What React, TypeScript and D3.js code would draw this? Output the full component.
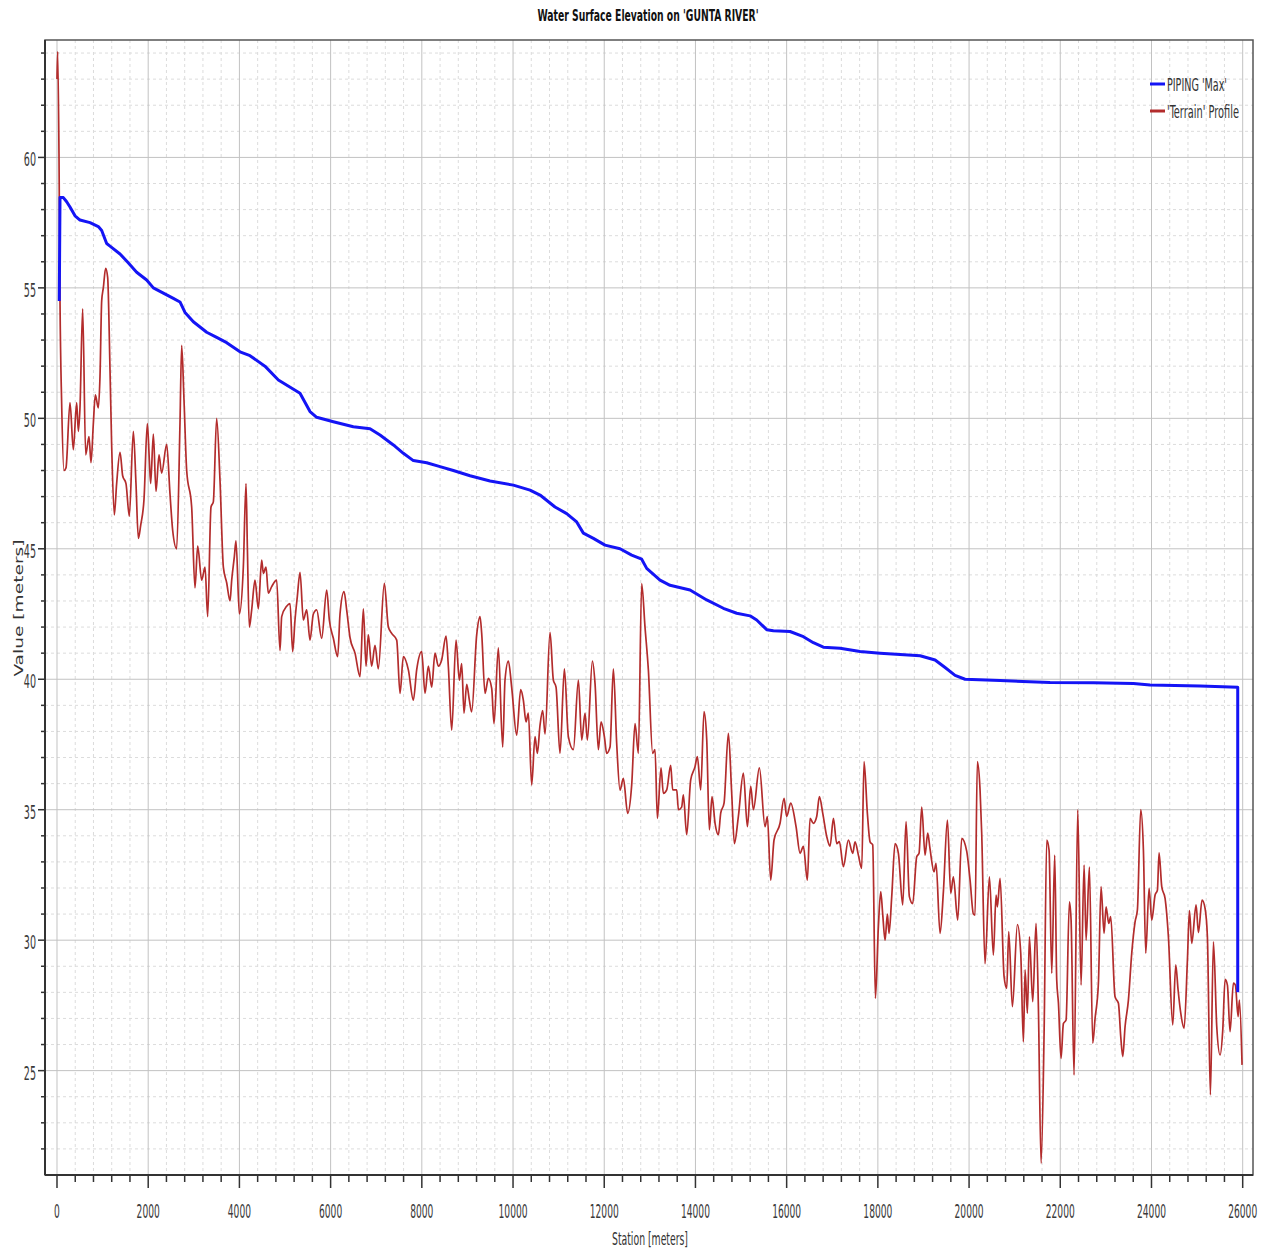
import React, { useEffect, useRef } from 'react';
import * as d3 from 'd3';

const W = 1269;
const H = 1251;

const chartTitle = "Water Surface Elevation on 'GUNTA RIVER'";
const xLabel = 'Station [meters]';
const yLabel = 'Value [meters]';
const seriesNames = ["PIPING 'Max'", "'Terrain' Profile"];
const seriesColors = ['#1414f5', '#b32c2c'];
const xTicks = [0, 2000, 4000, 6000, 8000, 10000, 12000, 14000, 16000, 18000, 20000, 22000, 24000, 26000];
const yTicks = [25, 30, 35, 40, 45, 50, 55, 60];

// [station, elevation]
const pipingMax: [number, number][] = [
  [50, 54.5], [66, 58.46], [139, 58.46], [212, 58.3], [285, 58.1], [395, 57.76], [504, 57.6],
  [724, 57.5], [906, 57.35], [980, 57.2], [1089, 56.7], [1162, 56.6], [1382, 56.3], [1542, 56.0],
  [1747, 55.6], [1966, 55.3], [2113, 55.0], [2332, 54.8], [2551, 54.6], [2697, 54.46], [2807, 54.06],
  [2990, 53.7], [3282, 53.3], [3501, 53.1], [3721, 52.9], [4013, 52.55], [4232, 52.4], [4560, 52.0],
  [4854, 51.47], [5329, 50.96], [5548, 50.26], [5694, 50.04], [6060, 49.87], [6498, 49.68], [6864, 49.6],
  [7083, 49.36], [7376, 48.98], [7595, 48.66], [7814, 48.38], [8107, 48.3], [8399, 48.15], [8691, 48.0],
  [9057, 47.8], [9496, 47.6], [10007, 47.44], [10373, 47.25], [10592, 47.06], [10921, 46.6], [11177, 46.35],
  [11396, 46.03], [11542, 45.6], [11762, 45.4], [12017, 45.14], [12346, 45.0], [12602, 44.76], [12821, 44.6],
  [12931, 44.25], [13223, 43.8], [13443, 43.6], [13881, 43.42], [14247, 43.04], [14612, 42.72], [14905, 42.53],
  [15197, 42.43], [15343, 42.27], [15563, 41.9], [15709, 41.86], [16074, 41.83], [16367, 41.63], [16586, 41.4],
  [16805, 41.23], [17171, 41.19], [17609, 41.06], [18049, 41.0], [18926, 40.9], [19255, 40.74], [19474, 40.45],
  [19693, 40.15], [19912, 40.0], [20680, 39.95], [21776, 39.88], [22726, 39.87], [23603, 39.84], [23969, 39.78],
  [25066, 39.74], [25891, 39.69], [25891, 28.0]
];

const terrainProfile: [number, number][] = [
  [0, 63.0], [15, 64.06], [44, 60.1], [66, 54.5], [102, 50.6], [153, 48.0], [197, 48.1], [285, 50.6],
  [358, 48.8], [431, 50.6], [468, 49.5], [504, 50.4], [563, 54.2], [629, 48.6], [702, 49.3], [746, 48.3],
  [797, 49.8], [841, 50.9], [906, 50.4], [943, 51.6], [980, 54.5], [1016, 55.0], [1067, 55.75], [1111, 55.4],
  [1162, 51.9], [1199, 48.96], [1257, 46.3], [1308, 47.5], [1382, 48.7], [1440, 47.8], [1513, 47.5],
  [1586, 46.25], [1674, 49.5], [1732, 47.5], [1784, 45.4], [1835, 45.9], [1908, 46.9], [1981, 49.8],
  [2025, 48.4], [2054, 47.5], [2113, 49.4], [2171, 47.2], [2237, 48.6], [2295, 47.9], [2405, 49.0],
  [2478, 47.1], [2537, 45.7], [2624, 45.0], [2697, 49.8], [2734, 52.8], [2785, 50.7], [2844, 48.0],
  [2953, 46.6], [3026, 43.5], [3085, 45.1], [3173, 43.8], [3246, 44.3], [3304, 42.4], [3377, 46.6],
  [3428, 46.8], [3501, 50.0], [3575, 47.6], [3648, 44.3], [3721, 43.7], [3794, 43.0], [3831, 43.8],
  [3889, 44.7], [3925, 45.3], [3999, 42.5], [4086, 44.3], [4145, 47.5],
  [4174, 45.1], [4218, 42.0], [4269, 42.66], [4342, 43.8], [4415, 42.7], [4488, 44.57], [4525, 44.06],
  [4583, 44.3], [4634, 43.3], [4707, 43.55], [4817, 43.8], [4890, 41.1], [4927, 42.4], [5036, 42.8],
  [5110, 42.9], [5168, 41.06], [5219, 42.27], [5270, 43.17], [5329, 44.1], [5402, 42.27], [5475, 42.66],
  [5548, 41.5], [5621, 42.5], [5694, 42.66], [5804, 41.57], [5914, 43.42], [5972, 42.27], [6060, 41.57],
  [6155, 40.87], [6206, 42.5], [6294, 43.36], [6352, 42.66], [6425, 41.6], [6535, 41.0], [6645, 40.1],
  [6718, 42.7], [6776, 40.5], [6827, 41.7], [6900, 40.5], [6973, 41.3], [7046, 40.4], [7178, 43.68],
  [7266, 42.0], [7339, 41.76], [7449, 41.5], [7522, 39.46], [7595, 40.87], [7705, 40.36], [7814, 39.2],
  [7887, 40.36], [7997, 41.06], [8070, 39.46], [8143, 40.5], [8216, 39.7], [8289, 41.0], [8362, 40.5],
  [8435, 40.74],
  [8531, 41.65], [8582, 40.48], [8655, 38.05], [8750, 41.5], [8823, 39.97], [8874, 40.6], [8925, 38.7],
  [8984, 39.8], [9042, 39.2], [9093, 38.75], [9203, 41.7], [9276, 42.4], [9313, 41.75], [9386, 39.46],
  [9459, 40.03], [9532, 39.65], [9583, 38.3], [9678, 41.2], [9773, 37.4], [9824, 39.97], [9898, 40.7],
  [9970, 39.7], [10080, 37.86], [10168, 39.6], [10226, 39.2], [10285, 38.37], [10336, 38.7], [10409, 35.95],
  [10482, 37.8], [10533, 37.16], [10592, 38.24], [10650, 38.8], [10702, 37.9], [10811, 41.8], [10884, 39.97],
  [10943, 39.7], [11030, 37.16], [11126, 40.4], [11213, 37.8], [11323, 37.3], [11433, 39.97], [11506, 37.67],
  [11579, 38.7], [11630, 37.67], [11740, 40.7], [11798, 39.84], [11871, 37.3], [11930, 38.37], [12003, 37.8],
  [12054, 37.16], [12127, 37.4], [12200, 40.4], [12273, 37.54], [12346, 35.75], [12419, 36.2], [12514, 34.86],
  [12602, 35.95], [12675, 38.3], [12748, 37.16], [12821, 43.67], [12894, 42.0], [12968, 40.35],
  [13062, 37.16], [13114, 37.3], [13165, 34.67], [13245, 36.6], [13296, 35.63], [13370, 35.76], [13457, 36.7],
  [13501, 35.76], [13589, 35.76], [13626, 35.0], [13698, 35.1], [13735, 35.57], [13808, 34.04], [13896, 36.14],
  [13991, 36.65], [14042, 37.04], [14115, 35.76], [14188, 38.76], [14247, 37.7], [14305, 34.23], [14364, 35.5],
  [14430, 34.48], [14503, 34.04], [14554, 34.87], [14627, 35.25], [14722, 37.93], [14795, 35.63], [14854, 33.7],
  [14941, 34.74], [15051, 36.4], [15139, 34.35], [15212, 35.9], [15270, 35.0], [15402, 36.6], [15526, 34.35],
  [15577, 34.74], [15650, 32.3], [15723, 33.84], [15855, 34.48], [15943, 35.44], [16001, 34.74], [16089, 35.25],
  [16206, 34.35], [16294, 33.33], [16367, 33.6], [16454, 32.3], [16513, 34.67], [16586, 34.48], [16659, 34.74],
  [16718, 35.5], [16791, 34.87], [16879, 33.97], [16952, 33.6], [17025, 34.67], [17098, 33.7], [17156, 33.78],
  [17244, 32.82], [17353, 33.84],
  [17448, 33.33], [17500, 33.77], [17573, 33.26], [17646, 32.75], [17697, 36.84], [17770, 34.86], [17829, 33.77],
  [17887, 33.65], [17946, 27.77], [18011, 30.5], [18063, 31.86], [18106, 31.0], [18158, 30.0], [18209, 31.0],
  [18245, 30.26], [18304, 31.67], [18377, 33.7], [18450, 33.33], [18545, 31.35], [18618, 34.54], [18691, 31.67],
  [18764, 31.4], [18852, 33.2], [18903, 33.33], [18962, 35.1], [19035, 33.26], [19093, 34.1], [19144, 33.5],
  [19232, 32.62], [19276, 32.94], [19364, 30.26], [19437, 31.86], [19525, 34.6], [19598, 31.8], [19656, 32.43],
  [19751, 30.77], [19839, 33.9], [19949, 33.4], [20022, 32.3], [20095, 31.0], [20131, 30.96], [20182, 36.84],
  [20241, 35.75], [20277, 34.1], [20350, 29.1], [20446, 32.43], [20533, 29.43], [20592, 31.73], [20621, 31.28],
  [20680, 32.37], [20768, 28.6], [20826, 28.15], [20870, 30.33], [20950, 27.45], [21060, 30.6], [21133, 29.5],
  [21191, 26.1], [21228, 28.86], [21279, 27.2], [21323, 30.13], [21396, 27.64], [21469, 30.64], [21520, 27.45],
  [21579, 21.45], [21645, 26.43], [21703, 33.84], [21754, 33.45], [21813, 28.73],
  [21878, 33.26], [21922, 28.47], [21959, 27.6], [22017, 25.47], [22068, 26.8], [22127, 26.94], [22200, 31.47],
  [22237, 30.77], [22302, 24.83], [22383, 34.99], [22456, 28.28], [22522, 32.88], [22566, 30.0], [22639, 32.8],
  [22712, 26.05], [22763, 27.0], [22836, 28.35], [22894, 32.05], [22960, 30.26], [23004, 31.28], [23063, 30.64],
  [23106, 30.9], [23201, 27.83], [23275, 27.58], [23326, 26.3], [23370, 25.54], [23421, 26.69], [23494, 27.7],
  [23567, 29.5], [23640, 30.7], [23691, 31.16], [23764, 35.0], [23823, 33.45], [23874, 29.5], [23947, 31.99],
  [24006, 30.77], [24079, 31.73], [24130, 31.92], [24166, 33.35], [24225, 32.05], [24298, 31.6], [24371, 30.13],
  [24466, 26.75], [24532, 29.05], [24583, 28.1], [24642, 27.2], [24715, 26.62], [24788, 29.24], [24832, 31.13],
  [24883, 29.88], [24978, 31.35], [25029, 30.29], [25109, 31.54], [25175, 31.22], [25226, 30.13], [25292, 24.07],
  [25358, 29.94], [25431, 26.69], [25504, 25.6], [25563, 26.56], [25614, 28.5], [25665, 28.28], [25723, 26.49],
  [25796, 28.35], [25840, 28.28], [25899, 27.07], [25928, 27.7], [25986, 25.22]
];

const FONT = "'Liberation Sans Narrow', 'DejaVu Sans Condensed', 'Roboto', sans-serif";

export default function App() {
  const svgRef = useRef<SVGSVGElement>(null);

  useEffect(() => {
    document.body.style.margin = '0';
    const svg = d3.select(svgRef.current);
    svg.selectAll('*').remove();

    const left = 45, right = 1253, top = 40, bottom = 1175;
    const x = d3.scaleLinear().domain([-263, 26226]).range([left, right]);
    const y = d3.scaleLinear().domain([21, 64.5]).range([bottom, top]);

    svg.append('rect').attr('width', W).attr('height', H).attr('fill', '#fff');

    // minor grid, dashed
    const minorX = d3.range(0, 26001, 400).filter(d => d % 2000 !== 0);
    const minorY = d3.range(22, 65, 1).filter(d => d % 5 !== 0);
    const grid = svg.append('g');
    grid.selectAll('.mx').data(minorX).enter().append('line')
      .attr('x1', d => x(d)).attr('x2', d => x(d)).attr('y1', top).attr('y2', bottom)
      .attr('stroke', '#dcdcdc').attr('stroke-dasharray', '3,3');
    grid.selectAll('.my').data(minorY).enter().append('line')
      .attr('y1', d => y(d)).attr('y2', d => y(d)).attr('x1', left).attr('x2', right)
      .attr('stroke', '#dcdcdc').attr('stroke-dasharray', '3,3');
    // major grid
    grid.selectAll('.Mx').data(xTicks).enter().append('line')
      .attr('x1', d => x(d)).attr('x2', d => x(d)).attr('y1', top).attr('y2', bottom)
      .attr('stroke', '#c2c2c2');
    grid.selectAll('.My').data(yTicks).enter().append('line')
      .attr('y1', d => y(d)).attr('y2', d => y(d)).attr('x1', left).attr('x2', right)
      .attr('stroke', '#c2c2c2');

    // frame
    svg.append('rect').attr('x', left).attr('y', top).attr('width', right - left).attr('height', bottom - top)
      .attr('fill', 'none').attr('stroke', '#555').attr('stroke-width', 1.5);
    svg.append('line').attr('x1', left).attr('x2', left).attr('y1', top).attr('y2', bottom)
      .attr('stroke', '#333').attr('stroke-width', 2);
    svg.append('line').attr('x1', left).attr('x2', right).attr('y1', bottom).attr('y2', bottom)
      .attr('stroke', '#333').attr('stroke-width', 2);

    // ticks
    const ticks = svg.append('g').attr('stroke', '#333').attr('stroke-width', 1.5);
    ticks.selectAll('.tx').data(minorX).enter().append('line')
      .attr('x1', d => x(d)).attr('x2', d => x(d)).attr('y1', bottom).attr('y2', bottom + 7);
    ticks.selectAll('.tX').data(xTicks).enter().append('line')
      .attr('x1', d => x(d)).attr('x2', d => x(d)).attr('y1', bottom).attr('y2', bottom + 13);
    ticks.selectAll('.ty').data(minorY).enter().append('line')
      .attr('y1', d => y(d)).attr('y2', d => y(d)).attr('x1', left - 4).attr('x2', left);
    ticks.selectAll('.tY').data(yTicks).enter().append('line')
      .attr('y1', d => y(d)).attr('y2', d => y(d)).attr('x1', left - 7).attr('x2', left);

    // tick labels
    svg.selectAll('.lx').data(xTicks).enter().append('text')
      .attr('x', d => x(d)).attr('y', 1218)
      .attr('text-anchor', 'middle').attr('font-family', FONT).attr('font-size', 19).attr('fill', '#3a3a3a')
      .attr('textLength', d => String(d).length * 5.8).attr('lengthAdjust', 'spacingAndGlyphs')
      .text(d => d);
    svg.selectAll('.ly').data(yTicks).enter().append('text')
      .attr('x', 36).attr('y', d => y(d) + 9)
      .attr('text-anchor', 'end').attr('font-family', FONT).attr('font-size', 19).attr('fill', '#3a3a3a')
      .attr('textLength', d => String(d).length * 6.1).attr('lengthAdjust', 'spacingAndGlyphs')
      .text(d => d);

    // series
    const terrainLine = d3.line<[number, number]>().x(d => x(d[0])).y(d => y(d[1])).curve(d3.curveMonotoneX);
    const wseLine = d3.line<[number, number]>().x(d => x(d[0])).y(d => y(d[1]));
    svg.append('path').datum(terrainProfile).attr('d', terrainLine)
      .attr('fill', 'none').attr('stroke', seriesColors[1]).attr('stroke-width', 1.7)
      .attr('stroke-linejoin', 'round');
    svg.append('path').datum(pipingMax).attr('d', wseLine)
      .attr('fill', 'none').attr('stroke', seriesColors[0]).attr('stroke-width', 3)
      .attr('stroke-linejoin', 'round');

    // title & axis labels
    svg.append('text').attr('x', 648).attr('y', 21).attr('text-anchor', 'middle')
      .attr('font-family', FONT).attr('font-size', 16).attr('font-weight', 'bold').attr('fill', '#111')
      .attr('textLength', 221).attr('lengthAdjust', 'spacingAndGlyphs').text(chartTitle);
    svg.append('text').attr('x', 650).attr('y', 1245).attr('text-anchor', 'middle')
      .attr('font-family', FONT).attr('font-size', 17).attr('fill', '#333')
      .attr('textLength', 76).attr('lengthAdjust', 'spacingAndGlyphs').text(xLabel);
    svg.append('text').attr('transform', 'translate(23,608) scale(0.65,1) rotate(-90)')
      .attr('text-anchor', 'middle').attr('font-family', FONT).attr('font-size', 18).attr('fill', '#333')
      .attr('textLength', 137).attr('lengthAdjust', 'spacingAndGlyphs').text(yLabel);

    // legend
    const legend = svg.append('g');
    const legendY = [84, 111];
    const legendW = [60, 72];
    seriesNames.forEach((name, i) => {
      legend.append('line').attr('x1', 1150).attr('x2', 1165).attr('y1', legendY[i]).attr('y2', legendY[i])
        .attr('stroke', seriesColors[i]).attr('stroke-width', 3);
      legend.append('text').attr('x', 1167).attr('y', legendY[i] + 7)
        .attr('font-family', FONT).attr('font-size', 17).attr('fill', '#333')
        .attr('textLength', legendW[i]).attr('lengthAdjust', 'spacingAndGlyphs').text(name);
    });
  }, []);

  return <svg ref={svgRef} width={W} height={H} style={{ display: 'block' }} />;
}
